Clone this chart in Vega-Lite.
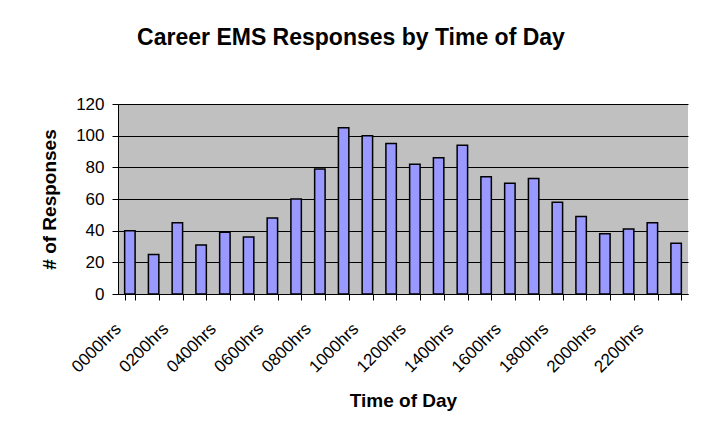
{
  "$schema": "https://vega.github.io/schema/vega-lite/v6.json",
  "width": 570,
  "height": 190,
  "autosize": {"type": "none"},
  "padding": {"left": 118, "top": 104, "right": 18, "bottom": 145},
  "background": "white",
  "title": {
    "text": "Career EMS Responses by Time of Day",
    "font": "Liberation Sans",
    "fontSize": 23,
    "fontWeight": "bold",
    "color": "black",
    "anchor": "middle",
    "dx": -52,
    "offset": 45
  },
  "data": {
    "values": [
      {"hour": "0000hrs", "count": 40},
      {"hour": "0100hrs", "count": 25},
      {"hour": "0200hrs", "count": 45},
      {"hour": "0300hrs", "count": 31},
      {"hour": "0400hrs", "count": 39},
      {"hour": "0500hrs", "count": 36},
      {"hour": "0600hrs", "count": 48},
      {"hour": "0700hrs", "count": 60},
      {"hour": "0800hrs", "count": 79},
      {"hour": "0900hrs", "count": 105},
      {"hour": "1000hrs", "count": 100},
      {"hour": "1100hrs", "count": 95},
      {"hour": "1200hrs", "count": 82},
      {"hour": "1300hrs", "count": 86},
      {"hour": "1400hrs", "count": 94},
      {"hour": "1500hrs", "count": 74},
      {"hour": "1600hrs", "count": 70},
      {"hour": "1700hrs", "count": 73},
      {"hour": "1800hrs", "count": 58},
      {"hour": "1900hrs", "count": 49},
      {"hour": "2000hrs", "count": 38},
      {"hour": "2100hrs", "count": 41},
      {"hour": "2200hrs", "count": 45},
      {"hour": "2300hrs", "count": 32}
    ]
  },
  "mark": {"type": "bar", "fill": "#9999FF", "stroke": "black", "strokeWidth": 1.5},
  "encoding": {
    "x": {
      "field": "hour",
      "type": "ordinal",
      "sort": null,
      "scale": {"paddingInner": 0.56, "paddingOuter": 0.28},
      "axis": {
        "title": "Time of Day",
        "titleFont": "Liberation Sans",
        "titleFontSize": 19,
        "titleFontWeight": "bold",
        "titleColor": "black",
        "titlePadding": 16,
        "labelExpr": "parseInt(substring(datum.value, 0, 2)) % 2 == 0 ? datum.value : ''",
        "labelAngle": -45,
        "labelAlign": "right",
        "labelBaseline": "middle",
        "labelFont": "Liberation Sans",
        "labelFontSize": 17,
        "labelColor": "black",
        "labelPadding": 26,
        "labelOffset": -12,
        "labelOverlap": false,
        "tickBand": "extent",
        "tickColor": "black",
        "tickSize": 6,
        "domainColor": "black",
        "grid": false
      }
    },
    "y": {
      "field": "count",
      "type": "quantitative",
      "scale": {"domain": [0, 120]},
      "axis": {
        "title": "# of Responses",
        "titleFont": "Liberation Sans",
        "titleFontSize": 19,
        "titleFontWeight": "bold",
        "titleColor": "black",
        "titlePadding": 16,
        "values": [0, 20, 40, 60, 80, 100, 120],
        "labelFont": "Liberation Sans",
        "labelFontSize": 17,
        "labelColor": "black",
        "labelPadding": 8,
        "tickColor": "black",
        "tickSize": 6,
        "domainColor": "black",
        "gridColor": "black",
        "gridOpacity": 1
      }
    }
  },
  "config": {
    "view": {"fill": "#C0C0C0", "stroke": null}
  }
}
